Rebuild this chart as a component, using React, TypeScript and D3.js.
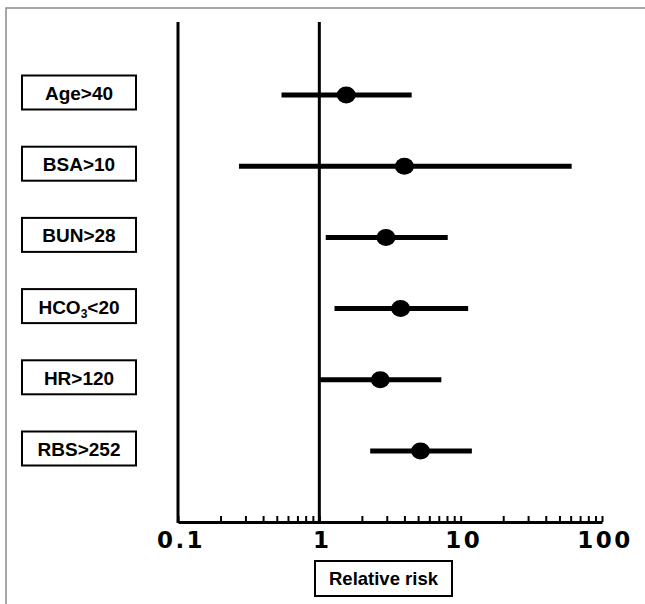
import React, { useEffect, useRef } from "react";
import * as d3 from "d3";

// factors and relative risk with 95% CI
const factors = ["Age>40", "BSA>10", "BUN>28", "HCO3<20", "HR>120", "RBS>252"];
const riskPoint = [1.55, 4.0, 2.96, 3.76, 2.7, 5.2];
const riskLow = [0.54, 0.27, 1.11, 1.28, 1.0, 2.29];
const riskHigh = [4.5, 61, 8.1, 11.3, 7.3, 12.0];
const tickLabels = ["0.1", "1", "10", "100"];

const W = 645;
const H = 604;

const App = () => {
  const ref = useRef<SVGSVGElement>(null);

  useEffect(() => {
    const svg = d3.select(ref.current);
    svg.selectAll("*").remove();

    const x = d3.scaleLog().domain([0.1, 100]).range([178, 602]);
    const y = d3.scalePoint().domain(factors).range([95, 451]);
    const yLabel = d3.scalePoint().domain(factors).range([92.5, 448.5]);
    const axisY = 522;

    // outer frame
    svg
      .append("rect")
      .attr("x", 6)
      .attr("y", 8)
      .attr("width", W)
      .attr("height", H)
      .attr("fill", "none")
      .attr("stroke", "#8a8a8a")
      .attr("stroke-width", 1.5);

    // minor ticks pointing up
    svg
      .append("g")
      .attr("transform", `translate(0,${axisY})`)
      .call(
        d3
          .axisBottom(x)
          .tickValues(x.ticks())
          .tickSizeInner(-6)
          .tickSizeOuter(0)
          .tickFormat(() => "")
      )
      .call((g) => g.select(".domain").attr("stroke-width", 3))
      .call((g) => g.selectAll(".tick line").attr("stroke-width", 2));

    // vertical lines at 0.1 and 1
    [0.1, 1].forEach((v) => {
      svg
        .append("line")
        .attr("x1", x(v))
        .attr("x2", x(v))
        .attr("y1", 22)
        .attr("y2", axisY + 1)
        .attr("stroke", "#000")
        .attr("stroke-width", 3);
    });

    // tick labels
    svg
      .append("g")
      .selectAll("text")
      .data(tickLabels)
      .join("text")
      .attr("x", (d) => x(+d) + 3)
      .attr("y", 548)
      .attr("text-anchor", "middle")
      .attr("font-family", "DejaVu Sans")
      .attr("font-weight", "bold")
      .attr("font-size", 23)
      .attr("letter-spacing", 2.5)
      .text((d) => d);

    // error bars
    const rows = svg.append("g");
    factors.forEach((f, i) => {
      rows
        .append("line")
        .attr("x1", x(riskLow[i]))
        .attr("x2", x(riskHigh[i]))
        .attr("y1", y(f)!)
        .attr("y2", y(f)!)
        .attr("stroke", "#000")
        .attr("stroke-width", 5);
      rows
        .append("ellipse")
        .attr("cx", x(riskPoint[i]))
        .attr("cy", y(f)!)
        .attr("rx", 9.5)
        .attr("ry", 8.5)
        .attr("fill", "#000");
    });

    // label boxes
    const labels = svg.append("g");
    factors.forEach((f) => {
      const cy = yLabel(f)!;
      labels
        .append("rect")
        .attr("x", 22)
        .attr("y", cy - 17)
        .attr("width", 114)
        .attr("height", 34)
        .attr("fill", "#fff")
        .attr("stroke", "#000")
        .attr("stroke-width", 2);
      const t = labels
        .append("text")
        .attr("x", 79)
        .attr("y", cy + 7.5)
        .attr("text-anchor", "middle")
        .attr("font-family", "Liberation Sans, Arial, sans-serif")
        .attr("font-weight", "bold")
        .attr("font-size", 19);
      if (f.startsWith("HCO3")) {
        t.append("tspan").text("HCO");
        t.append("tspan").attr("font-size", 12).attr("dy", 4).text("3");
        t.append("tspan").attr("dy", -4).text(f.slice(4));
      } else {
        t.text(f);
      }
    });

    // x axis title
    svg
      .append("rect")
      .attr("x", 315)
      .attr("y", 561)
      .attr("width", 137)
      .attr("height", 35)
      .attr("fill", "#fff")
      .attr("stroke", "#000")
      .attr("stroke-width", 2);
    svg
      .append("text")
      .attr("x", 383.5)
      .attr("y", 585)
      .attr("text-anchor", "middle")
      .attr("font-family", "Liberation Sans, Arial, sans-serif")
      .attr("font-weight", "bold")
      .attr("font-size", 18.5)
      .text("Relative risk");
  }, []);

  return (
    <svg
      ref={ref}
      width={W}
      height={H}
      style={{ position: "absolute", left: 0, top: 0, background: "#fff" }}
    ></svg>
  );
};

export default App;
